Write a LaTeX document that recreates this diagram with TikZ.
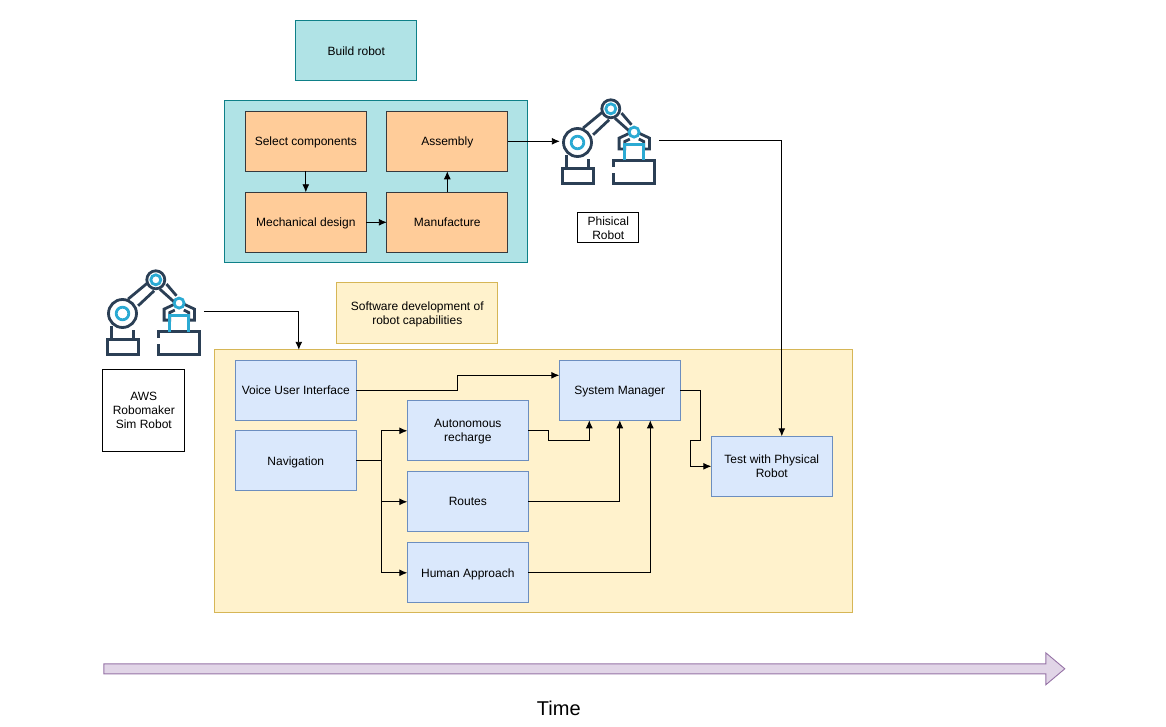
\documentclass[tikz,border=0pt]{standalone}
\usepackage{fontspec}
\setmainfont{Liberation Sans}
\usepackage{tikz}
\usetikzlibrary{arrows.meta}
\definecolor{tealfill}{HTML}{B0E3E6}
\definecolor{tealline}{HTML}{0E8088}
\definecolor{peachfill}{HTML}{FFCC99}
\definecolor{peachline}{HTML}{36393D}
\definecolor{creamfill}{HTML}{FFF2CC}
\definecolor{creamline}{HTML}{D6B656}
\definecolor{bluefill}{HTML}{DAE8FC}
\definecolor{blueline}{HTML}{6C8EBF}
\definecolor{lilacfill}{HTML}{E1D5E7}
\definecolor{lilacline}{HTML}{9673A6}
\definecolor{armdark}{HTML}{2B3F55}
\definecolor{armblue}{HTML}{2BAAD3}
\tikzset{
  txt/.style={font=\fontsize{12}{14}\selectfont,align=center,inner sep=0pt,outer sep=0pt,text depth=0pt},
  tealbox/.style={txt,line width=.9pt,draw=tealline,fill=tealfill,minimum width=121pt,minimum height=60pt},
  peachbox/.style={txt,line width=.9pt,draw=peachline,fill=peachfill,minimum width=121pt,minimum height=60pt},
  bluebox/.style={txt,line width=.9pt,draw=blueline,fill=bluefill,minimum width=121pt,minimum height=60pt},
  creambox/.style={txt,line width=.9pt,draw=creamline,fill=creamfill},
  plainbox/.style={txt,line width=.9pt,draw=black,fill=white},
  link/.style={-{Latex[length=8pt,width=7pt]},line width=.9pt},
  robotarm/.pic={
    \begin{scope}[line width=2.8pt,draw=armdark]
      \draw (16.7,44.7) circle (14);
      \draw (50,11) circle (9);
      \draw (22.3,30.3) -- (42.3,13.7);
      \draw (32.3,37) -- (48.3,22);
      \draw (54,20.3) -- (69,33.7);
      \draw (60.7,15.3) -- (70.7,27);
      \draw (5.7,57) -- (5.7,71);
      \draw (27.3,61.3) -- (27.3,71);
      \draw (1.3,71) rectangle (32.3,85.7);
      \draw (53,69.3) -- (53,62.7) -- (93.3,62.7) -- (93.3,85.7) -- (53,85.7) -- (53,75.5);
      \draw (69,35.3) -- (58.3,40.3) -- (58.3,51.3) -- (64,51.3) -- (64,43.7) -- (69,41.3);
      \draw (78,35.3) -- (88.7,40.3) -- (88.7,51.3) -- (83,51.3) -- (83,43.7) -- (78,41.3);
    \end{scope}
    \begin{scope}[line width=2.8pt,draw=armblue]
      \draw (16.7,44.7) circle (6.3);
      \draw (50,11) circle (5);
      \draw (73.3,34.3) circle (5);
      \draw (64,62.7) -- (64,47) -- (83,47) -- (83,62.7);
    \end{scope}
    \coordinate (-in) at (-1,44);
    \coordinate (-out) at (98,43);
  }
}
\begin{document}
\begin{tikzpicture}[x=1pt,y=-1pt]
  \useasboundingbox (.2,.2) rectangle (1166.2,727.2);
  % build side
  \node[tealbox] (build) at (356.5,51) {Build robot};
  \node[tealbox,minimum width=303pt,minimum height=162pt] (buildarea) at (376.5,182) {};
  \node[peachbox] (select) at (306,141.5) {Select components};
  \node[peachbox] (assembly) at (447.5,141.5) {Assembly};
  \node[peachbox] (mech) at (306,222.5) {Mechanical design};
  \node[peachbox] (manuf) at (447.5,222.5) {Manufacture};
  \pic (physbot) at (561,98) {robotarm};
  \node[plainbox,minimum width=61pt,minimum height=30pt] (physlabel) at (608.5,228) {Phisical\\Robot};
  % software side
  \pic (simbot) at (106,269) {robotarm};
  \node[plainbox,minimum width=82pt,minimum height=82pt] (simlabel) at (144,411) {AWS\\Robomaker\\Sim Robot};
  \node[creambox,minimum width=161pt,minimum height=61pt] (swtitle) at (417.5,313.5) {Software development of\\robot capabilities};
  \node[creambox,minimum width=638pt,minimum height=263pt] (swarea) at (534,481.5) {};
  \node[bluebox] (voice) at (296,390.5) {Voice User Interface};
  \node[bluebox] (nav) at (296,461) {Navigation};
  \node[bluebox] (auton) at (468,431) {Autonomous\\recharge};
  \node[bluebox] (routes) at (468,502) {Routes};
  \node[bluebox] (human) at (468,573) {Human Approach};
  \node[bluebox] (system) at (620,390.5) {System Manager};
  \node[bluebox] (test) at (772,466.5) {Test with Physical\\Robot};
  \coordinate (navsplit) at (382,461);
  % connectors
  \draw[link] (select) -- (mech);
  \draw[link] (mech) -- (manuf);
  \draw[link] (manuf) -- (assembly);
  \draw[link] (assembly.east) -- (assembly.east -| physbot-in);
  \draw[link] (physbot-out) -| ([xshift=10pt]test.north);
  \draw[link] (simbot-out) -| ([xshift=84pt]swarea.north west);
  \draw[link] (voice.east) -- (458,390.5) |- ([yshift=15pt]system.west);
  \draw[line width=.9pt] (nav.east) -- (navsplit);
  \draw[link] (navsplit) |- (auton.west);
  \draw[link] (navsplit) |- (routes.west);
  \draw[link] (navsplit) |- (human.west);
  \draw[link] (auton.east) -- ++(20,0) -- ++(0,10) -| ([xshift=-30.5pt]system.south);
  \draw[link] (routes.east) -| (system.south);
  \draw[link] (human.east) -| ([xshift=30.5pt]system.south);
  \draw[link] (system.east) -- ++(20,0) -- ++(0,50) -- ++(-10,0) |- (test.west);
  % time
  \draw[draw=lilacline,fill=lilacfill,line width=.9pt] (104,664) -- (1046,664) -- (1046,653) -- (1065,669) -- (1046,685) -- (1046,674) -- (104,674) -- cycle;
  \node[txt,font=\fontsize{20}{24}\selectfont] (timelabel) at (559,708) {Time};
\end{tikzpicture}
\end{document}
